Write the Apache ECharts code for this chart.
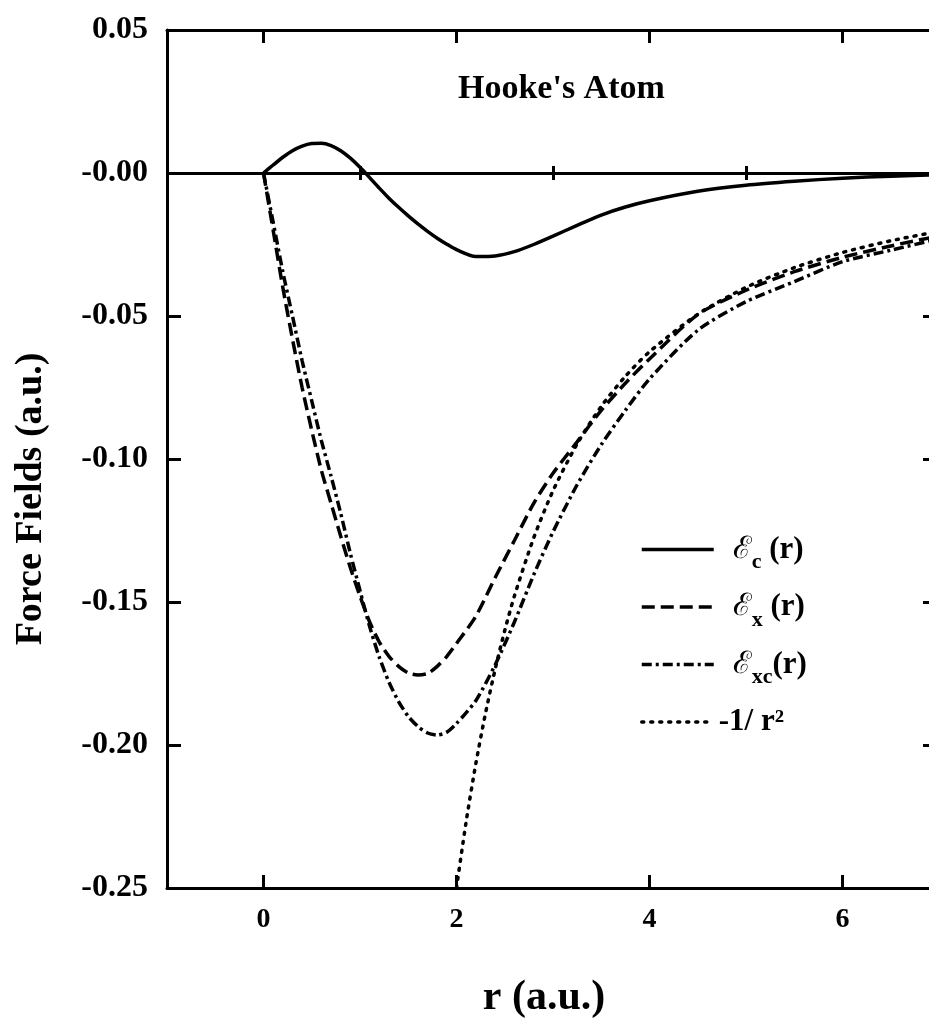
<!DOCTYPE html>
<html><head><meta charset="utf-8">
<script src="https://cdn.jsdelivr.net/npm/echarts@6/dist/echarts.min.js"></script>
<style>html,body{margin:0;padding:0;background:#fff}#c{width:929px;height:1019px}</style>
</head><body><div id="c"></div>
<script>
const rGrid = [0, 0.1, 0.2, 0.3, 0.4, 0.5, 0.6, 0.7, 0.8, 0.9, 1.0, 1.1, 1.2, 1.3, 1.4, 1.5, 1.6, 1.7, 1.8, 1.9, 2.0, 2.2, 2.4, 2.6, 2.8, 3.0, 3.25, 3.5, 3.75, 4.0, 4.5, 5.0, 5.5, 6.0, 6.5, 7.0];
const epsC = [0, 0.0028, 0.0055, 0.0078, 0.0094, 0.0103, 0.0104, 0.0096, 0.0078, 0.0052, 0.0020, -0.0016, -0.0053, -0.0088, -0.0120, -0.0150, -0.0178, -0.0204, -0.0228, -0.0249, -0.0268, -0.0292, -0.0290, -0.0275, -0.0250, -0.0221, -0.0183, -0.0147, -0.0119, -0.0097, -0.0064, -0.0043, -0.0029, -0.0018, -0.0011, -0.0006];
const epsX = [0, -0.020, -0.040, -0.058, -0.075, -0.090, -0.104, -0.1155, -0.127, -0.138, -0.148, -0.157, -0.164, -0.169, -0.1725, -0.1748, -0.1755, -0.175, -0.1725, -0.169, -0.1645, -0.155, -0.1415, -0.1285, -0.1155, -0.105, -0.094, -0.083, -0.0735, -0.065, -0.0495, -0.041, -0.0345, -0.0295, -0.0255, -0.022];
const epsXC = [0, -0.0172, -0.0345, -0.050, -0.0656, -0.0797, -0.0936, -0.106, -0.119, -0.133, -0.146, -0.1586, -0.1693, -0.178, -0.1848, -0.1900, -0.1935, -0.1958, -0.1965, -0.1955, -0.1925, -0.1845, -0.172, -0.157, -0.1405, -0.1255, -0.109, -0.095, -0.083, -0.072, -0.055, -0.045, -0.038, -0.031, -0.027, -0.023];
const rInv = [2.0, 2.1, 2.2, 2.3, 2.4, 2.5, 2.6, 2.8, 3.0, 3.25, 3.5, 3.75, 4.0, 4.5, 5.0, 5.5, 6.0, 6.5, 7.0];
const invR2 = [-0.25, -0.2268, -0.2066, -0.189, -0.1736, -0.16, -0.1479, -0.1276, -0.1111, -0.0947, -0.0816, -0.0711, -0.0625, -0.0494, -0.04, -0.0331, -0.0278, -0.0237, -0.0204];
const xMajorTicks = [0, 2, 4, 6];
const xMinorTicks = [1, 3, 5];
const yTickValues = [0.05, 0, -0.05, -0.10, -0.15, -0.20, -0.25];
const yTickLabels = ['0.05', '-0.00', '-0.05', '-0.10', '-0.15', '-0.20', '-0.25'];
const seriesNames = ['Ec', 'Ex', 'Exc', 'inv'];
const legendLabels = {
  Ec: '{e|ℰ}{sub|c}{t| (r)}',
  Ex: '{e|ℰ}{sub|x}{t| (r)}',
  Exc: '{e|ℰ}{sub|xc}{t|(r)}',
  inv: '{t|-1/ r²}'
};
const titleText = "Hooke's Atom";
const xName = 'r (a.u.)';
const yName = 'Force Fields (a.u.)';

const SERIF = '"Liberation Serif", "Times New Roman", serif';
const pairs = (xs, ys) => xs.map((x, i) => [x, ys[i]]);

const tickStyle = { color: '#000', width: 3 };
const axLine = { show: true, onZero: false, lineStyle: { color: '#000', width: 3 } };
function xAx(pos, ticks, len, labels, extra) {
  return Object.assign({
    type: 'value', min: -1, max: 7, position: pos, splitLine: { show: false },
    axisLine: axLine,
    axisTick: { show: true, inside: true, length: len, lineStyle: tickStyle, customValues: ticks },
    axisLabel: labels ? { show: true, customValues: ticks, fontFamily: SERIF, fontSize: 28, fontWeight: 'bold', color: '#000', margin: 18 } : { show: false }
  }, extra || {});
}

const chart = echarts.init(document.getElementById('c'), null, { renderer: 'canvas' });
chart.setOption({
  animation: false,
  backgroundColor: '#fff',
  title: {
    text: titleText, left: 458, top: 72, padding: 0,
    textStyle: { fontFamily: SERIF, fontSize: 34, fontWeight: 'bold', color: '#000' }
  },
  grid: { left: 167, top: 30, right: -10, bottom: 131, containLabel: false, outerBoundsMode: 'none' },
  legend: {
    orient: 'vertical', left: 635, top: 529, itemWidth: 72, itemHeight: 14, itemGap: 18,
    selectedMode: false, data: seriesNames,
    formatter: n => legendLabels[n],
    itemStyle: { color: 'rgba(0,0,0,0)', borderWidth: 0, borderColor: 'rgba(0,0,0,0)' },
    lineStyle: { width: 3.5, color: '#000', type: 'inherit' },
    textStyle: {
      color: '#000',
      rich: {
        e: { fontFamily: '"DejaVu Serif", serif', fontSize: 31, color: '#000', lineHeight: 48, verticalAlign: 'middle', padding: [0, 0, 0, 14] },
        sub: { fontFamily: SERIF, fontSize: 22, fontWeight: 'bold', color: '#000', lineHeight: 22, verticalAlign: 'bottom' },
        t: { fontFamily: SERIF, fontSize: 31, fontWeight: 'bold', color: '#000', lineHeight: 48, verticalAlign: 'middle' }
      }
    }
  },
  xAxis: [
    xAx('bottom', xMajorTicks, 13, true, {
      name: xName, nameLocation: 'middle', nameGap: 89,
      nameTextStyle: { fontFamily: SERIF, fontSize: 42, fontWeight: 'bold', color: '#000', padding: [0, 18, 0, 0] }
    }),
    xAx('bottom', xMinorTicks, 7, false, { axisLine: { show: false } }),
    xAx('top', xMajorTicks, 13, false),
    xAx('top', xMinorTicks, 7, false, { axisLine: { show: false } })
  ],
  yAxis: [
    {
      type: 'value', min: -0.25, max: 0.05, interval: 0.05, position: 'left',
      splitLine: { show: false }, axisLine: axLine,
      axisTick: { show: true, inside: true, length: 14, lineStyle: tickStyle, customValues: yTickValues },
      axisLabel: {
        customValues: yTickValues, fontFamily: SERIF, fontSize: 32, fontWeight: 'bold', color: '#000', margin: 19,
        formatter: v => { const i = yTickValues.findIndex(t => Math.abs(t - v) < 1e-9); return i >= 0 ? yTickLabels[i] : ''; }
      },
      name: yName, nameLocation: 'middle', nameGap: 117,
      nameTextStyle: { fontFamily: SERIF, fontSize: 38, fontWeight: 'bold', color: '#000', padding: [0, 80, 0, 0] }
    },
    {
      type: 'value', min: -0.25, max: 0.05, interval: 0.05, position: 'right',
      splitLine: { show: false }, axisLine: axLine,
      axisTick: { show: true, inside: true, length: 16, lineStyle: tickStyle, customValues: yTickValues },
      axisLabel: { show: false }
    }
  ],
  series: [
    {
      name: 'Ec', type: 'line', data: pairs(rGrid, epsC), symbol: 'none', smooth: 0.25,
      lineStyle: { color: '#000', width: 3.5, type: 'solid' }, itemStyle: { color: '#000' },
      markLine: {
        silent: true, symbol: ['none', 'none'], label: { show: false },
        lineStyle: { color: '#000', width: 3, type: 'solid' }, data: [{ yAxis: 0 }]
      }
    },
    {
      name: 'Ex', type: 'line', data: pairs(rGrid, epsX), symbol: 'none', smooth: 0.25,
      lineStyle: { color: '#000', width: 3.5, type: [13, 6] }, itemStyle: { color: '#000' }
    },
    {
      name: 'Exc', type: 'line', data: pairs(rGrid, epsXC), symbol: 'none', smooth: 0.25,
      lineStyle: { color: '#000', width: 3.5, type: [10, 4, 3, 4] }, itemStyle: { color: '#000' }
    },
    {
      name: 'inv', type: 'line', data: pairs(rInv, invR2), symbol: 'none', smooth: 0.25,
      lineStyle: { color: '#000', width: 3.5, type: [2, 7], cap: 'round' }, itemStyle: { color: '#000' }
    }
  ]
});
</script></body></html>
